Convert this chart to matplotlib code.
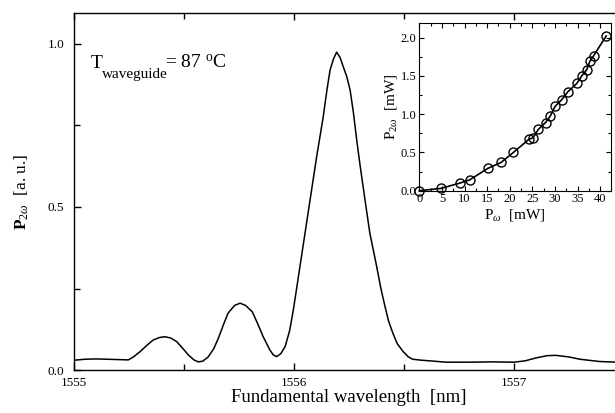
import matplotlib
matplotlib.use("Agg")
import matplotlib.pyplot as plt
from matplotlib.ticker import MultipleLocator, FormatStrFormatter

plt.rcParams['font.family'] = ['Liberation Serif', 'DejaVu Serif']
plt.rcParams['mathtext.fontset'] = 'custom'
plt.rcParams['mathtext.rm'] = 'Liberation Serif'
plt.rcParams['mathtext.it'] = 'Liberation Serif:italic'
plt.rcParams['mathtext.bf'] = 'Liberation Serif:bold'

# Main spectrum
wavelength = [1555.00, 1555.05, 1555.10, 1555.15, 1555.20, 1555.247, 1555.27,
              1555.30, 1555.33, 1555.36, 1555.39, 1555.414, 1555.44, 1555.467,
              1555.495, 1555.52, 1555.545, 1555.565, 1555.585, 1555.61, 1555.635,
              1555.656, 1555.68, 1555.70, 1555.73, 1555.755, 1555.78, 1555.81,
              1555.835, 1555.86, 1555.89, 1555.905, 1555.921, 1555.94, 1555.96,
              1555.98, 1555.997, 1556.012, 1556.027, 1556.05, 1556.073, 1556.103,
              1556.133, 1556.15, 1556.164, 1556.18, 1556.194, 1556.21, 1556.224,
              1556.24, 1556.255, 1556.27, 1556.285, 1556.30, 1556.323, 1556.345,
              1556.36, 1556.376, 1556.395, 1556.414, 1556.43, 1556.45, 1556.47,
              1556.497, 1556.52, 1556.54, 1556.58, 1556.62, 1556.69, 1556.80,
              1556.90, 1557.00, 1557.05, 1557.10, 1557.15, 1557.19, 1557.25,
              1557.30, 1557.39, 1557.47]
p2w = [0.030, 0.033, 0.034, 0.033, 0.032, 0.031, 0.040,
       0.056, 0.075, 0.092, 0.100, 0.102, 0.098, 0.087,
       0.066, 0.046, 0.031, 0.025, 0.027, 0.040, 0.065,
       0.097, 0.140, 0.174, 0.198, 0.205, 0.198, 0.179,
       0.142, 0.102, 0.062, 0.047, 0.041, 0.050, 0.072,
       0.120, 0.184, 0.250, 0.317, 0.419, 0.521, 0.654,
       0.777, 0.860, 0.920, 0.955, 0.975, 0.958, 0.930,
       0.900, 0.859, 0.790, 0.706, 0.630, 0.521, 0.419,
       0.370, 0.317, 0.250, 0.194, 0.150, 0.112, 0.080,
       0.056, 0.040, 0.033, 0.030, 0.028, 0.024, 0.024,
       0.025, 0.024, 0.028, 0.037, 0.044, 0.045, 0.040,
       0.033, 0.026, 0.024]

# Inset: SH power vs fundamental power
p_w = [0.0, 4.8, 9.0, 11.1, 15.1, 18.1, 20.8, 24.2, 25.1, 26.3, 27.9, 28.9,
       30.0, 31.5, 32.8, 34.8, 35.9, 37.0, 37.7, 38.5, 41.3]
p_2w = [0.0, 0.03, 0.10, 0.14, 0.29, 0.37, 0.50, 0.67, 0.69, 0.80, 0.89, 0.97,
        1.10, 1.19, 1.29, 1.40, 1.50, 1.58, 1.69, 1.76, 2.02]

W, H = 615, 413
fig = plt.figure(figsize=(W / 100, H / 100), dpi=100)
ax = fig.add_axes([0.1203, 0.1041, 0.8943, 0.8644])
ax.plot(wavelength, p2w, color='black', lw=1.1)
ax.set_xlim(1555.0, 1557.5)
ax.set_ylim(0.0, 1.095)
ax.xaxis.set_major_locator(MultipleLocator(1.0))
ax.xaxis.set_minor_locator(MultipleLocator(0.5))
ax.yaxis.set_major_locator(MultipleLocator(0.5))
ax.yaxis.set_minor_locator(MultipleLocator(0.25))
ax.xaxis.set_major_formatter(FormatStrFormatter('%d'))
ax.yaxis.set_major_formatter(FormatStrFormatter('%.1f'))
ax.tick_params(which='both', direction='in', top=True, right=False, labelsize=9.5)
ax.tick_params(axis='y', pad=7)
ax.tick_params(axis='x', pad=5)
ax.tick_params(which='major', length=5, width=1)
ax.tick_params(which='minor', length=4, width=1)
for s in ax.spines.values():
    s.set_linewidth(1.0)
ax.set_xlabel('Fundamental wavelength  [nm]', fontsize=13.5, labelpad=0)
ax.set_ylabel(r'$\mathbf{P}_{2\omega}$  [a. u.]', fontsize=12.5, labelpad=12)

# Temperature annotation, placed in figure pixels from top-left
def ftext(x, y, s, **kw):
    fig.text(x / W, 1 - y / H, s, **kw)

ftext(91, 68, 'T', fontsize=14, va='baseline', ha='left')
ftext(102, 78, 'waveguide', fontsize=11, va='baseline', ha='left')
ftext(165, 68, r'= 87 $^{\mathregular{o}}$C', fontsize=14, va='baseline', ha='left')

ins = fig.add_axes([0.6818, 0.5383, 0.3112, 0.4060])
ins.plot(p_w, p_2w, color='black', lw=1.2, marker='o', markersize=6.5,
         markerfacecolor='none', markeredgecolor='black', markeredgewidth=1.0,
         clip_on=False)
ins.set_xlim(0, 42.3)
ins.set_ylim(0, 2.19)
ins.xaxis.set_major_locator(MultipleLocator(5))
ins.xaxis.set_minor_locator(MultipleLocator(2.5))
ins.yaxis.set_major_locator(MultipleLocator(0.5))
ins.yaxis.set_minor_locator(MultipleLocator(0.25))
ins.yaxis.set_major_formatter(FormatStrFormatter('%.1f'))
ins.tick_params(which='both', direction='in', top=True, right=True, labelsize=9, pad=2)
ins.tick_params(which='major', length=3.5, width=0.8)
ins.tick_params(which='minor', length=2, width=0.8)
ins.set_xlabel(r'P$_{\omega}$  [mW]', fontsize=11, labelpad=1)
ins.set_ylabel(r'P$_{2\omega}$  [mW]', fontsize=11, labelpad=1)

fig.savefig('out.png', dpi=100)
